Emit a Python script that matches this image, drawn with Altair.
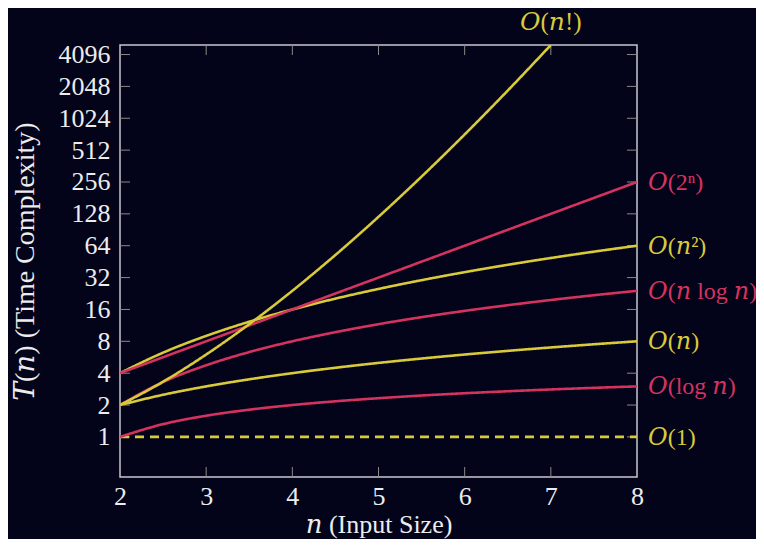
import altair as alt
import pandas as pd

# ---- data ----
n_vals = [2, 2.5, 3, 3.5, 4, 4.5, 5, 5.5, 6, 6.5, 7, 7.5, 8]
o_1 = [1, 1, 1, 1, 1, 1, 1, 1, 1, 1, 1, 1, 1]
o_log = [1, 1.32, 1.585, 1.807, 2, 2.17, 2.32, 2.46, 2.585, 2.70, 2.807, 2.907, 3]
o_n = [2, 2.5, 3, 3.5, 4, 4.5, 5, 5.5, 6, 6.5, 7, 7.5, 8]
o_nlog = [2, 3.30, 4.75, 6.33, 8, 9.76, 11.61, 13.53, 15.51, 17.55, 19.65, 21.80, 24]
o_n2 = [4, 6.25, 9, 12.25, 16, 20.25, 25, 30.25, 36, 42.25, 49, 56.25, 64]
o_2n = [4, 5.66, 8, 11.31, 16, 22.63, 32, 45.25, 64, 90.51, 128, 181.02, 256]
fact_n = [2, 2.5, 3, 3.5, 4, 4.5, 5, 5.5, 6, 6.5, 7]
o_fact = [2, 3.32, 6, 11.63, 24, 52.34, 120, 287.9, 720, 1871, 5040]

names = ["O(1)", "O(log n)", "O(n)", "O(n log n)", "O(n²)", "O(2ⁿ)", "O(n!)"]
labels = ["𝑂(1)", "𝑂(log 𝑛)", "𝑂(𝑛)", "𝑂(𝑛 log 𝑛)", "𝑂(𝑛²)", "𝑂(2ⁿ)", "𝑂(𝑛!)"]
YEL = "#d8ca3a"
RED = "#d5335f"
colors = [YEL, RED, YEL, RED, YEL, RED, YEL]
dashes = ["dashed", "solid", "solid", "solid", "solid", "solid", "solid"]

y_ticks = [1, 2, 4, 8, 16, 32, 64, 128, 256, 512, 1024, 2048, 4096]
x_ticks = [2, 3, 4, 5, 6, 7, 8]
x_inner = [3, 4, 5, 6, 7]

series_vals = [o_1, o_log, o_n, o_nlog, o_n2, o_2n]
rows = []
for name, vals, d in zip(names[:6], series_vals, dashes[:6]):
    for n, v in zip(n_vals, vals):
        rows.append({"series": name, "n": n, "t": v, "dash": d})
for n, v in zip(fact_n, o_fact):
    rows.append({"series": "O(n!)", "n": n, "t": v, "dash": "solid"})
df = pd.DataFrame(rows)

end_rows = []
for name, lab, vals in zip(names[:6], labels[:6], series_vals):
    end_rows.append({"series": name, "label": lab, "n": n_vals[-1], "t": vals[-1]})
end_df = pd.DataFrame(end_rows)
top_df = pd.DataFrame([{"series": "O(n!)", "label": labels[6], "n": fact_n[-1], "t": o_fact[-1]}])

yt_df = pd.DataFrame({"t": y_ticks})
xt_df = pd.DataFrame({"n": x_inner})

W, H = 517, 432
FONT = "'Liberation Serif', 'DejaVu Serif', serif"
FG = "#ececec"

x_scale = alt.Scale(domain=[2, 8], nice=False, zero=False)
y_scale = alt.Scale(type="log", base=2, domain=[0.418, 5040], nice=False)
c_scale = alt.Scale(domain=names, range=colors)

lines = alt.Chart(df).mark_line(strokeWidth=2.6, interpolate="monotone", clip=True).encode(
    x=alt.X("n:Q", scale=x_scale,
            axis=alt.Axis(values=x_ticks, format="d", title="𝑛 (Input Size)", tickSize=0,
                          domain=False, grid=False, labelFontSize=26, labelPadding=6,
                          labelFlush=False,
                          labelColor=FG, labelFont=FONT, titleFont=FONT, titleFontSize=26,
                          titleColor=FG, titleFontWeight="normal", titleX=W / 2, titleY=47,
                          titleBaseline="middle", titleAlign="center")),
    y=alt.Y("t:Q", scale=y_scale,
            axis=alt.Axis(values=y_ticks, format="d", title="𝑇(𝑛) (Time Complexity)", tickSize=0,
                          domain=False, grid=False, labelFontSize=26, labelPadding=10,
                          labelFlush=False,
                          labelColor=FG, labelFont=FONT, titleFont=FONT, titleFontSize=28,
                          titleColor=FG, titleFontWeight="normal", titleAngle=-90,
                          titleX=-95, titleY=H / 2, titleBaseline="middle",
                          titleAlign="center")),
    color=alt.Color("series:N", scale=c_scale, legend=None),
    strokeDash=alt.StrokeDash("dash:N", scale=alt.Scale(domain=["solid", "dashed"],
                                                        range=[[1, 0], [9, 6]]), legend=None),
    detail="series:N",
)

TICK = "#8a8a8a"
lt = alt.Chart(yt_df).mark_rule(color=TICK, strokeWidth=1).encode(
    y="t:Q", x=alt.value(0), x2=alt.value(10))
rt = alt.Chart(yt_df).mark_rule(color=TICK, strokeWidth=1).encode(
    y="t:Q", x=alt.value(W - 10), x2=alt.value(W))
bt = alt.Chart(xt_df).mark_rule(color=TICK, strokeWidth=1).encode(
    x="n:Q", y=alt.value(H - 10), y2=alt.value(H))
tt = alt.Chart(xt_df).mark_rule(color=TICK, strokeWidth=1).encode(
    x="n:Q", y=alt.value(0), y2=alt.value(10))

end_text = alt.Chart(end_df).mark_text(align="left", baseline="middle", dx=11, dy=1,
                                       fontSize=24, font=FONT).encode(
    x="n:Q", y="t:Q", text="label:N",
    color=alt.Color("series:N", scale=c_scale, legend=None))
top_text = alt.Chart(top_df).mark_text(align="center", baseline="middle", dy=-23,
                                       fontSize=25, font=FONT).encode(
    x="n:Q", y="t:Q", text="label:N",
    color=alt.Color("series:N", scale=c_scale, legend=None))

chart = alt.layer(lt, rt, bt, tt, lines, end_text, top_text).properties(
    width=W, height=H,
    autosize=alt.AutoSizeParams(type="none"),
    padding={"left": 112, "top": 37, "right": 119, "bottom": 62},
    background="#03031a",
).configure_view(stroke="#c8c8d0", strokeWidth=1.5)

chart.save("out.html", embed_options={"renderer": "svg", "actions": False})
